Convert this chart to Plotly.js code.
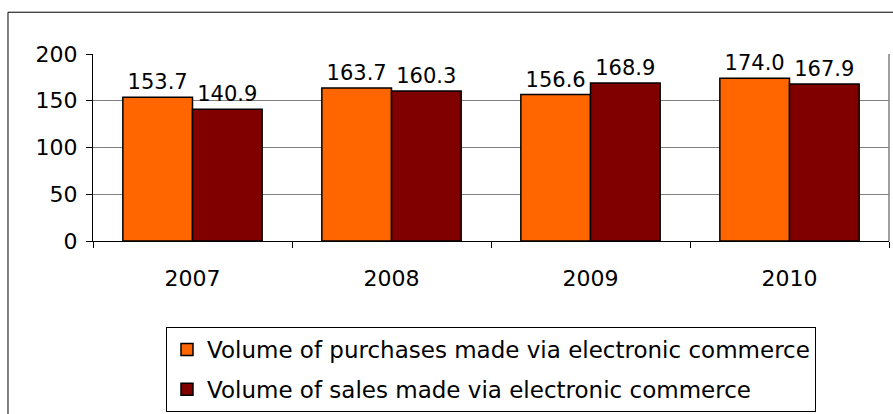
<!DOCTYPE html>
<html><head><meta charset="utf-8">
<script src="https://cdn.plot.ly/plotly-3.0.1.min.js"></script>
<style>html,body{margin:0;padding:0;background:#fff}#c{width:893px;height:414px}</style>
</head><body><div id="c"></div>
<script>
const years = ["2007", "2008", "2009", "2010"];
const purchases = [153.7, 163.7, 156.6, 174.0];
const sales = [140.9, 160.3, 168.9, 167.9];
const seriesNames = ["Volume of purchases made via electronic commerce", "Volume of sales made via electronic commerce"];
const yTicks = [0, 50, 100, 150, 200];

const font = {family: "DejaVu Sans, sans-serif", size: 22, color: "#000"};
const labelFont = {family: "DejaVu Sans, sans-serif", size: 21, color: "#000"};
function bar(vals, name, color, group) {
  return {type: "bar", x: years, y: vals, name: name, legendgroup: group,
    marker: {color: color, line: {color: "#000", width: 1.5}},
    text: vals.map(v => v.toFixed(1)), textposition: "outside", cliponaxis: false,
    textfont: labelFont, hoverinfo: "none"};
}
const data = [bar(purchases, seriesNames[0], "#FF6600", "a"), bar(sales, seriesNames[1], "#800000", "b")];
const layout = {
  width: 893, height: 414, margin: {l: 93, r: 4, t: 54, b: 172},
  paper_bgcolor: "#fff", plot_bgcolor: "#fff", font: font,
  barmode: "group", bargap: 0.3, bargroupgap: 0,
  showlegend: true,
  legend: {x: 0.0917, y: -0.452, xanchor: "left", yanchor: "top", bordercolor: "#000", borderwidth: 1,
    bgcolor: "#fff", font: {family: font.family, size: 23, color: "#000"}, tracegroupgap: 7, itemwidth: 30},
  xaxis: {type: "category", tickson: "boundaries", ticks: "outside", ticklen: 6, tickcolor: "#000",
    showline: true, linecolor: "#000", linewidth: 1, showgrid: false, tickfont: font, fixedrange: true,
    ticklabelstandoff: 18},
  yaxis: {range: [0, 200], tickvals: yTicks, ticktext: yTicks.map(String), ticks: "outside", ticklen: 6,
    tickcolor: "#000", showline: true, linecolor: "#000", linewidth: 1, showgrid: true, gridcolor: "#808080",
    gridwidth: 1, zeroline: false, tickfont: font, fixedrange: true, ticklabelstandoff: 4},
  shapes: [
    {type: "rect", xref: "paper", yref: "paper", x0: -0.1068, x1: 1.05, y0: -1.2, y1: 1.2234,
      line: {color: "#000", width: 1}, layer: "below"},
    {type: "line", xref: "paper", yref: "paper", x0: 1, x1: 1, y0: 0, y1: 1, line: {color: "#808080", width: 1.5}}
  ]
};
Plotly.newPlot("c", data, layout, {displayModeBar: false, staticPlot: true});
</script></body></html>
